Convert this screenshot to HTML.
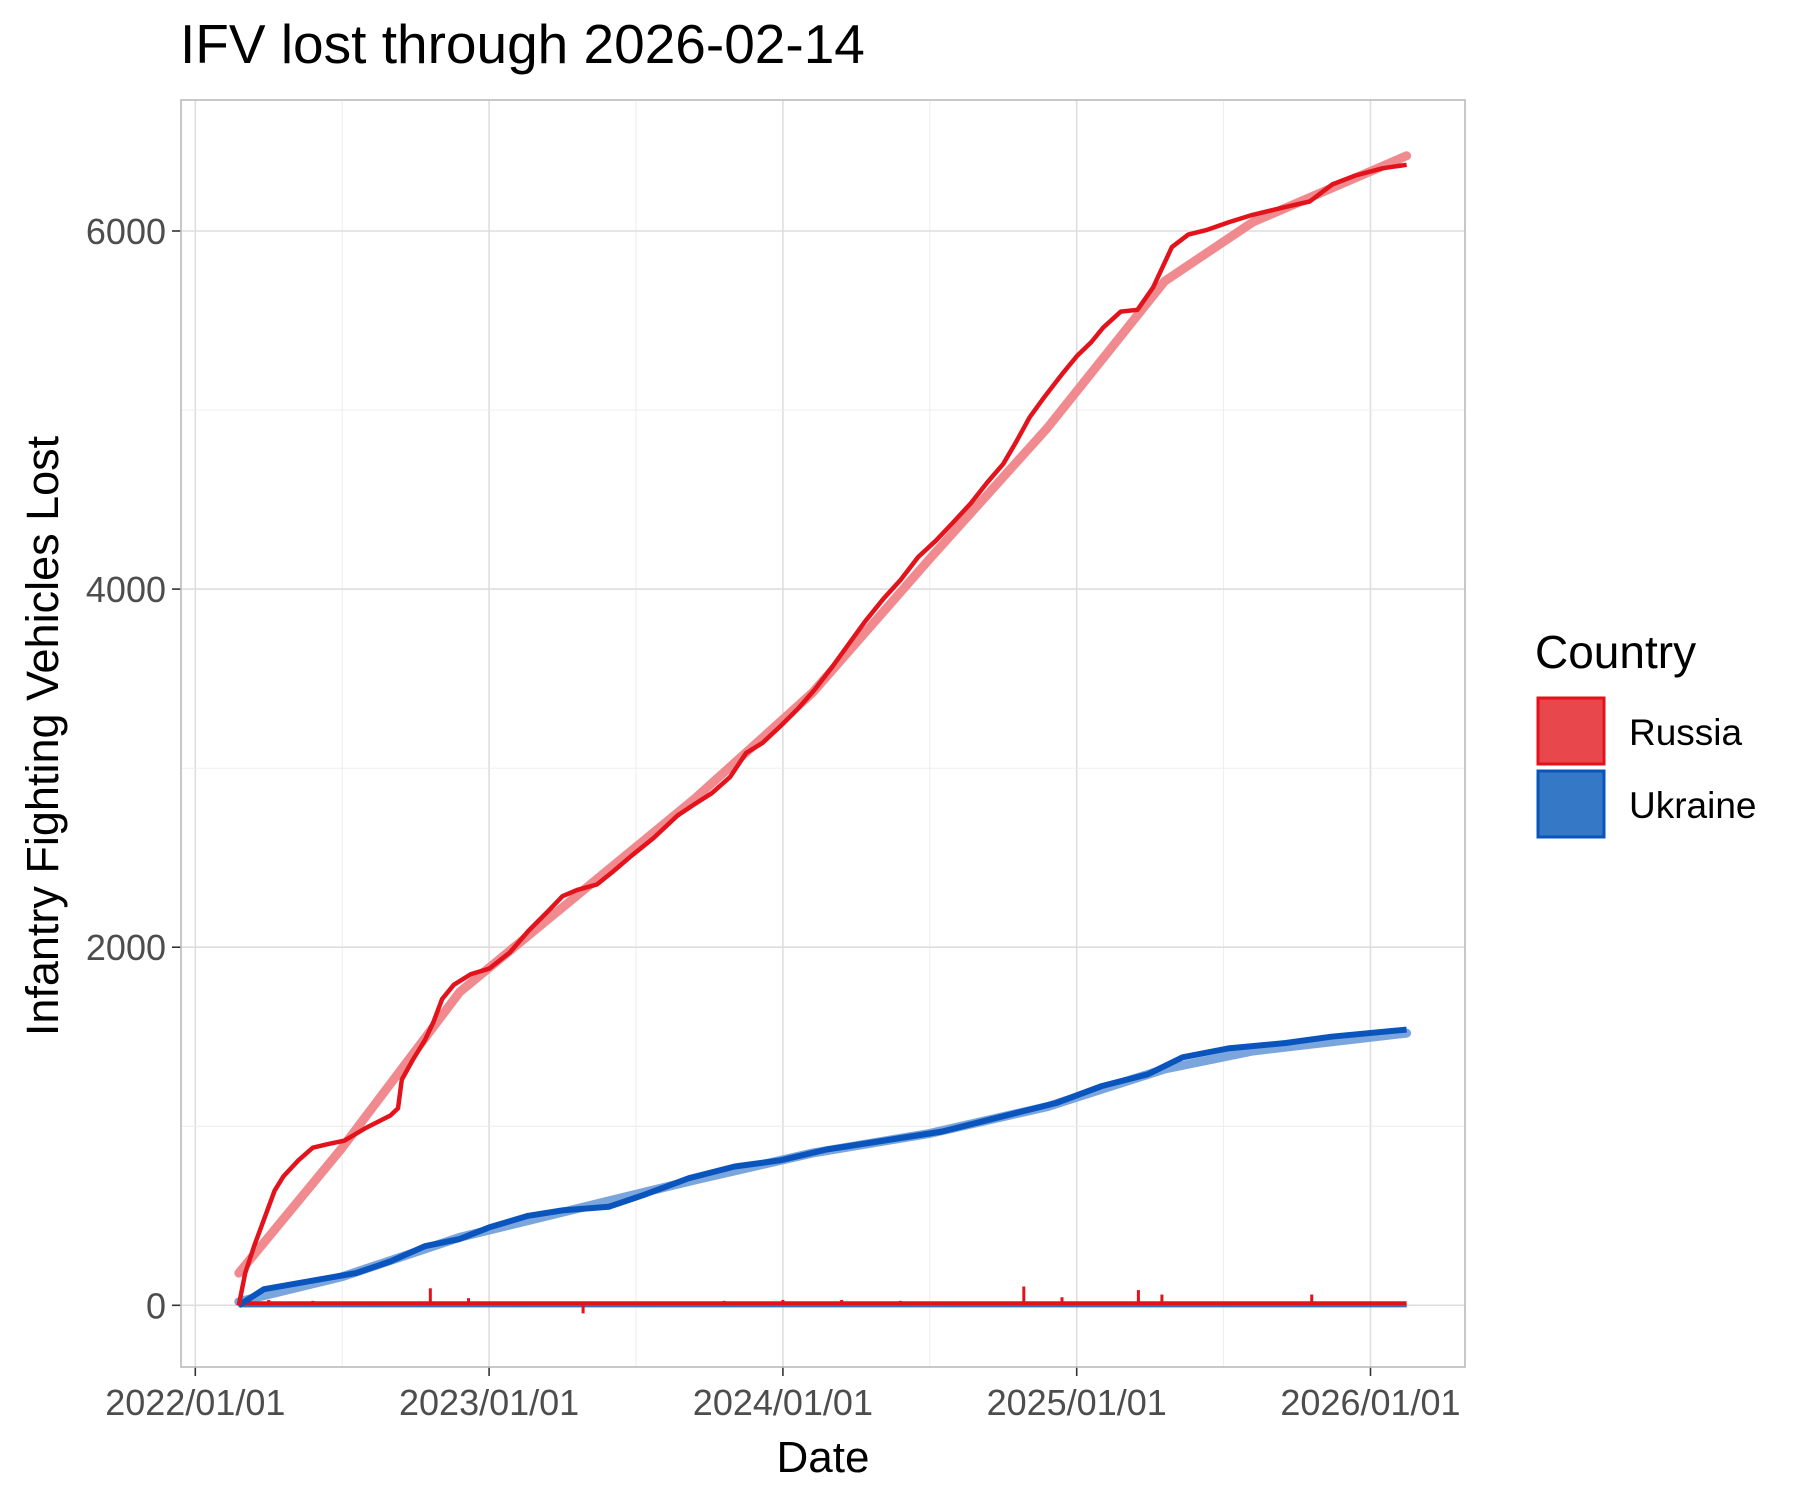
<!DOCTYPE html>
<html><head><meta charset="utf-8"><style>
body{margin:0;background:#fff;font-family:"Liberation Sans",Arial,sans-serif;}
svg text{font-family:"Liberation Sans",Arial,sans-serif;}
</style></head><body>
<svg id="chart" width="1800" height="1500" xmlns="http://www.w3.org/2000/svg">
<rect width="1800" height="1500" fill="#fff"/>
<text x="180" y="63" font-size="55" fill="#000">IFV lost through 2026-02-14</text>
<text x="823" y="1472" font-size="44" text-anchor="middle" fill="#000">Date</text>
<text transform="translate(58,736) rotate(-90)" font-size="45" text-anchor="middle" fill="#000">Infantry Fighting Vehicles Lost</text>
<g id="grid"></g><g id="series"></g><g id="axes"></g>
<g>
<text x="1535" y="668" font-size="46" fill="#000">Country</text>
<rect x="1538" y="698" width="66" height="66" fill="#e8474c" stroke="#e3121b" stroke-width="3"/>
<text x="1629" y="745" font-size="37" fill="#000">Russia</text>
<rect x="1538" y="771" width="66" height="66" fill="#3478c6" stroke="#0a55bd" stroke-width="3"/>
<text x="1629" y="818" font-size="37" fill="#000">Ukraine</text>
</g>
</svg>
<script>
const dates=[2022.148,2022.17,2022.2,2022.234,2022.27,2022.3,2022.351,2022.4,2022.45,2022.508,2022.58,2022.664,2022.69,2022.703,2022.74,2022.781,2022.81,2022.840,2022.88,2022.938,2023.0,2023.07,2023.133,2023.2,2023.250,2023.3,2023.367,2023.42,2023.484,2023.56,2023.641,2023.7,2023.758,2023.82,2023.875,2023.93,2023.992,2024.05,2024.109,2024.17,2024.227,2024.28,2024.344,2024.4,2024.461,2024.52,2024.578,2024.64,2024.695,2024.75,2024.793,2024.84,2024.891,2024.95,2025.0,2025.05,2025.090,2025.15,2025.207,2025.26,2025.324,2025.38,2025.441,2025.52,2025.598,2025.7,2025.793,2025.87,2025.949,2026.04,2026.123];
const russia=[0,180,330,480,640,720,810,880,900,920,990,1060,1100,1260,1370,1480,1580,1710,1790,1850,1880,1970,2090,2200,2285,2320,2350,2420,2510,2610,2735,2800,2860,2950,3085,3140,3235,3330,3440,3570,3700,3820,3950,4050,4180,4270,4370,4480,4595,4700,4820,4960,5075,5200,5300,5380,5460,5550,5560,5685,5910,5980,6005,6050,6090,6130,6165,6260,6310,6350,6370];
const uDates=[2022.148,2022.234,2022.391,2022.547,2022.664,2022.781,2022.899,2023.0,2023.133,2023.250,2023.407,2023.524,2023.680,2023.836,2023.992,2024.149,2024.344,2024.540,2024.735,2024.930,2025.086,2025.242,2025.360,2025.516,2025.711,2025.867,2026.123];
const ukraine=[0,90,135,180,245,330,370,435,500,530,550,615,710,775,810,870,920,970,1050,1130,1225,1290,1385,1435,1465,1500,1540];
const smoothDates=[2022.148,2022.5,2022.9,2023.3,2023.7,2024.1,2024.5,2024.9,2025.3,2025.6,2026.123];
const russiaTrend=[180,880,1750,2290,2830,3420,4170,4900,5720,6050,6420];
const ukraineTrend=[20,160,380,540,700,850,960,1110,1320,1420,1520];
const spikeDates=[2022.25,2022.4,2022.6,2022.8,2022.93,2023.1,2023.32,2023.55,2023.8,2024.0,2024.2,2024.4,2024.6,2024.82,2024.95,2025.21,2025.29,2025.5,2025.8,2026.0];
const spikeVals=[30,25,20,95,40,15,-45,20,25,30,30,25,20,105,45,85,60,20,60,15];
const xTicks=[2022,2023,2024,2025,2026];
const xTickLabels=["2022/01/01","2023/01/01","2024/01/01","2025/01/01","2026/01/01"];
const yTicks=[0,2000,4000,6000];

const L=181,R=1465,T=100,B=1367;
const x=d=>195.3+(d-2022)*293.8;
const y=v=>1305.3-v*0.17905;
const NS="http://www.w3.org/2000/svg";
function mk(tag,attrs,parent){const e=document.createElementNS(NS,tag);for(const k in attrs)e.setAttribute(k,attrs[k]);parent.appendChild(e);return e;}
const grid=document.getElementById('grid'),ser=document.getElementById('series'),ax=document.getElementById('axes');
let bg=mk('rect',{x:L,y:T,width:R-L,height:B-T,fill:'#fff'},grid);


for(let i=0;i<xTicks.length;i++){
  const v=xTicks[i];
  let g=mk('line',{x1:x(v),x2:x(v),y1:T,y2:B,stroke:'#dedede','stroke-width':1.6},grid);
  
  
  if(v<2026){let m=mk('line',{x1:x(v+0.5),x2:x(v+0.5),y1:T,y2:B,stroke:'#ececec','stroke-width':0.9},grid);
  
  }
  let t=mk('line',{x1:x(v),x2:x(v),y1:B,y2:B+9,stroke:'#333','stroke-width':1.6},ax);
  
  
  let l=mk('text',{x:x(v),y:B+48,'font-size':36,fill:'#4d4d4d','text-anchor':'middle'},ax);
  l.textContent=xTickLabels[i];
  
  
}
for(const v of yTicks){
  let g=mk('line',{x1:L,x2:R,y1:y(v),y2:y(v),stroke:'#dedede','stroke-width':1.6},grid);
  
  
  if(v<6000){let m=mk('line',{x1:L,x2:R,y1:y(v+1000),y2:y(v+1000),stroke:'#ececec','stroke-width':0.9},grid);
  
  }
  let t=mk('line',{x1:L-9,x2:L,y1:y(v),y2:y(v),stroke:'#333','stroke-width':1.6},ax);
  
  
  let l=mk('text',{x:L-15,y:y(v)+13,'font-size':36,fill:'#4d4d4d','text-anchor':'end'},ax);
  l.textContent=v;
  
  
}
let fr=mk('rect',{x:L,y:T,width:R-L,height:B-T,fill:'none',stroke:'#bbb','stroke-width':1.6},ax);


function path(xs,vs){return xs.map((d,i)=>(i?'L':'M')+x(d).toFixed(1)+','+y(vs[i]).toFixed(1)).join('');}
let rt=mk('path',{d:path(smoothDates,russiaTrend),fill:'none',stroke:'#f08a8e','stroke-width':9,'stroke-linecap':'round','stroke-linejoin':'round'},ser);


let ut=mk('path',{d:path(smoothDates,ukraineTrend),fill:'none',stroke:'#7aa6dd','stroke-width':9,'stroke-linecap':'round'},ser);


let zl=mk('line',{x1:x(2022.148),x2:x(2026.123),y1:y(0)-1,y2:y(0)-1,stroke:'#e3121b','stroke-width':6},ser);


let zb=mk('line',{x1:x(2022.148),x2:x(2026.123),y1:y(0)+1,y2:y(0)+1,stroke:'#3a6fc0','stroke-width':2},ser);


for(let i=0;i<spikeDates.length;i++){
  let s=mk('line',{x1:x(spikeDates[i]),x2:x(spikeDates[i]),y1:y(0),y2:y(spikeVals[i]),stroke:'#e3121b','stroke-width':3},ser);
  
  
}
let ul=mk('path',{d:path(uDates,ukraine),fill:'none',stroke:'#0a55bd','stroke-width':6,'stroke-linejoin':'round'},ser);


let rl=mk('path',{d:path(dates,russia),fill:'none',stroke:'#e3121b','stroke-width':4.5,'stroke-linejoin':'round'},ser);


</script>
</body></html>
